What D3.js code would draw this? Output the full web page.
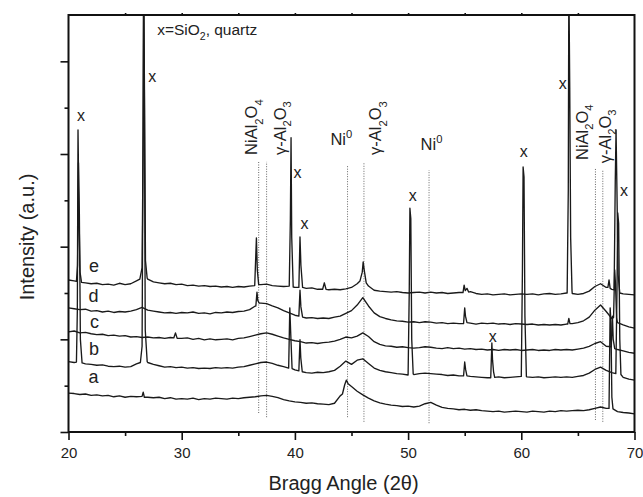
<!DOCTYPE html>
<html><head><meta charset="utf-8">
<script src="https://cdn.jsdelivr.net/npm/d3@7"></script>
<style>
body{margin:0;background:#fff}
svg{display:block;font-family:"Liberation Sans",Arial,Helvetica,sans-serif}
</style>
</head><body>
<svg id="chart" width="643" height="497"></svg>
<script>
// ---------------- DATA ----------------
const sampleNames = ["a","b","c","d","e"];
const angleStart = 20, angleEnd = 70, angleStep = 0.5;   // measurement grid (2θ)
const xTickLabels = [20,30,40,50,60,70];
const xMinorTicks = [25,35,45,55,65];
const xTopTicks = [25,30,35,40,45,50,55,60,65];
const yMajorTicks = [0,2,4,6,8];
const yMinorTicks = [1,3,5,7];

// baselines, one value per 0.5° from 20° to 70° (a.u.)
const baseA = [
 0.84,0.83,0.81,0.82,0.79,0.80,0.78,0.79,0.76,0.78,
 0.75,0.77,0.76,0.78,0.75,0.74,0.75,0.72,0.74,0.71,
 0.72,0.71,0.73,0.70,0.72,0.71,0.73,0.72,0.71,0.73,
 0.72,0.74,0.75,0.76,0.78,0.79,0.77,0.74,0.70,0.67,
 0.65,0.64,0.62,0.63,0.61,0.60,0.59,0.62,0.78,1.10,
 0.98,0.88,0.80,0.73,0.67,0.63,0.60,0.58,0.57,0.55,
 0.56,0.54,0.56,0.61,0.64,0.58,0.53,0.51,0.50,0.48,
 0.49,0.47,0.48,0.46,0.45,0.44,0.45,0.43,0.44,0.45,
 0.44,0.43,0.45,0.44,0.43,0.45,0.44,0.46,0.45,0.46,
 0.47,0.46,0.48,0.51,0.54,0.51,0.48,0.44,0.42,0.41,
 0.39];
const baseB = [
 1.52,1.50,1.50,1.47,1.46,1.44,1.45,1.42,1.41,1.42,
 1.40,1.41,1.47,1.55,1.50,1.46,1.43,1.40,1.41,1.39,
 1.40,1.38,1.39,1.37,1.38,1.37,1.39,1.38,1.39,1.38,
 1.40,1.41,1.44,1.47,1.50,1.51,1.48,1.44,1.41,1.38,
 1.34,1.31,1.28,1.27,1.29,1.28,1.30,1.33,1.42,1.53,
 1.46,1.55,1.58,1.48,1.38,1.33,1.30,1.28,1.26,1.25,
 1.23,1.24,1.26,1.27,1.26,1.25,1.24,1.22,1.23,1.21,
 1.22,1.20,1.19,1.18,1.17,1.18,1.19,1.17,1.18,1.19,
 1.20,1.19,1.18,1.19,1.17,1.18,1.19,1.18,1.19,1.18,
 1.20,1.22,1.27,1.35,1.40,1.33,1.28,1.25,1.18,1.14,
 1.12];
const baseC = [
 2.16,2.18,2.14,2.15,2.12,2.10,2.11,2.08,2.09,2.07,
 2.08,2.05,2.06,2.04,2.05,2.03,2.04,2.02,2.04,2.03,
 2.02,2.03,2.00,2.02,1.99,2.01,1.99,2.00,2.01,1.99,
 2.02,2.03,2.06,2.09,2.12,2.14,2.11,2.07,2.03,2.00,
 1.97,1.95,1.92,1.93,1.91,1.93,1.94,1.96,2.00,2.05,
 2.03,2.07,2.14,2.06,1.95,1.89,1.86,1.85,1.83,1.84,
 1.82,1.81,1.82,1.84,1.83,1.81,1.80,1.82,1.80,1.81,
 1.79,1.80,1.78,1.79,1.77,1.78,1.76,1.78,1.77,1.78,
 1.76,1.77,1.78,1.76,1.77,1.76,1.78,1.77,1.78,1.77,
 1.79,1.81,1.85,1.91,1.95,1.85,1.80,1.78,1.75,1.72,
 1.70];
const baseD = [
 2.68,2.66,2.64,2.65,2.61,2.62,2.59,2.61,2.58,2.60,
 2.59,2.61,2.64,2.69,2.63,2.61,2.59,2.57,2.58,2.56,
 2.58,2.57,2.59,2.56,2.57,2.55,2.58,2.57,2.59,2.58,
 2.60,2.61,2.64,2.72,2.78,2.77,2.72,2.68,2.62,2.57,
 2.52,2.49,2.46,2.47,2.45,2.46,2.45,2.48,2.50,2.56,
 2.62,2.74,2.90,2.72,2.57,2.49,2.45,2.42,2.40,2.39,
 2.37,2.38,2.36,2.38,2.37,2.35,2.36,2.34,2.35,2.34,
 2.36,2.35,2.33,2.35,2.34,2.35,2.33,2.34,2.32,2.34,
 2.33,2.32,2.33,2.31,2.32,2.31,2.32,2.31,2.33,2.34,
 2.36,2.40,2.48,2.63,2.74,2.60,2.45,2.36,2.31,2.27,
 2.24];
const baseE = [
 3.28,3.26,3.24,3.22,3.20,3.21,3.18,3.19,3.17,3.21,
 3.18,3.20,3.26,3.35,3.30,3.24,3.22,3.20,3.21,3.18,
 3.19,3.16,3.17,3.15,3.16,3.14,3.15,3.13,3.14,3.12,
 3.14,3.13,3.15,3.16,3.18,3.19,3.16,3.15,3.14,3.15,
 3.12,3.13,3.10,3.11,3.08,3.09,3.07,3.08,3.07,3.09,
 3.12,3.20,3.40,3.15,3.06,3.04,3.03,3.02,3.03,3.01,
 3.00,3.01,3.02,3.00,3.02,3.00,3.01,2.99,3.00,3.01,
 3.04,3.03,2.99,2.97,2.98,2.96,2.97,2.98,2.96,2.97,
 2.98,2.97,2.98,2.96,2.98,2.99,2.97,2.98,3.00,2.99,
 2.97,2.99,3.04,3.14,3.20,3.12,3.08,3.02,2.98,2.97,
 2.96];

// sharp reflections: [2θ, intensity] points
const peaksA = [
 [[26.5,0.77],[26.6,0.86],[26.7,0.75]],
 [[44.2,0.82],[44.4,1.02],[44.55,1.12],[44.7,1.04]],
 [[67.75,0.51],[67.85,2.68],[67.92,2.35],[68.0,0.75],[68.1,0.50]]
];
const peaksB = [
 [[20.7,1.51],[20.78,2.6],[20.84,6.52],[20.9,5.3],[20.96,4.7],[21.05,2.0],[21.2,1.49]],
 [[26.35,1.50],[26.5,1.85],[26.58,6.0],[26.63,9.8],[26.7,7.5],[26.78,2.2],[26.95,1.52]],
 [[39.45,1.38],[39.55,2.68],[39.62,2.2],[39.75,1.37]],
 [[40.35,1.32],[40.45,1.99],[40.52,1.6],[40.65,1.30]],
 [[50.0,1.23],[50.1,3.0],[50.16,4.83],[50.24,4.6],[50.32,2.0],[50.45,1.25]],
 [[54.9,1.21],[55.0,1.51],[55.08,1.35],[55.2,1.21]],
 [[57.3,1.17],[57.4,1.92],[57.46,1.55],[57.55,1.3],[57.65,1.18]],
 [[60.0,1.20],[60.1,3.5],[60.16,5.72],[60.24,5.5],[60.32,2.5],[60.45,1.20]],
 [[68.35,1.26],[68.45,3.0],[68.52,4.73],[68.6,4.5],[68.7,2.0],[68.8,1.24]]
];
const peaksC = [
 [[29.3,2.03],[29.45,2.14],[29.6,2.02]],
 [[67.95,1.84],[68.05,2.50],[68.12,2.0],[68.25,1.80]]
];
const peaksD = [
 [[36.55,2.72],[36.65,3.02],[36.72,2.84],[36.85,2.78]],
 [[40.35,2.50],[40.45,3.06],[40.53,2.70],[40.68,2.48]],
 [[54.9,2.34],[55.0,2.68],[55.07,2.50],[55.2,2.36]],
 [[64.1,2.33],[64.2,2.45],[64.3,2.34]],
 [[68.15,2.47],[68.25,3.5],[68.32,3.2],[68.42,2.45]]
];
const peaksE = [
 [[20.7,3.25],[20.8,3.6],[20.88,5.81],[20.95,4.4],[21.02,3.45],[21.15,3.23]],
 [[26.3,3.30],[26.5,3.55],[26.6,6.5],[26.65,9.8],[26.72,7.0],[26.8,3.7],[26.95,3.32]],
 [[36.45,3.16],[36.6,4.19],[36.68,3.5],[36.8,3.18]],
 [[39.5,3.15],[39.6,4.6],[39.66,6.35],[39.72,4.2],[39.85,3.13]],
 [[40.35,3.12],[40.45,4.21],[40.53,3.6],[40.68,3.12]],
 [[42.45,3.08],[42.6,3.22],[42.75,3.08]],
 [[45.75,3.26],[45.95,3.45],[46.03,3.67],[46.12,3.5],[46.3,3.22]],
 [[54.85,3.01],[54.95,3.17],[55.05,3.05],[55.2,3.10],[55.35,3.02]],
 [[64.05,3.00],[64.15,5.2],[64.2,9.8],[64.28,7.42],[64.36,4.2],[64.48,3.05]],
 [[67.65,3.12],[67.75,3.28],[67.85,3.10]],
 [[68.2,3.07],[68.3,5.4],[68.37,6.52],[68.45,5.2],[68.55,3.4],[68.7,3.0]]
];

// curve letters: [name, 2θ, intensity]
const sampleLabels = [["a",22.2,1.06],["b",22.25,1.66],["c",22.3,2.24],["d",22.2,2.81],["e",22.25,3.45]];
// quartz markers: [2θ, intensity]
const quartzMarks = [[21.11,6.71],[27.39,7.55],[40.22,5.48],[40.84,4.38],[50.40,4.98],[60.22,5.93],[63.67,7.40],[69.07,5.09],[57.48,1.94]];
// reference positions (dotted): [2θ, from, to]
const refLines = [[36.8,0.41,5.83],[37.5,0.32,5.83],[44.65,0.32,5.76],[46.1,0.22,5.80],[51.85,0.19,5.65],[66.55,0.26,5.70],[67.2,0.22,5.65]];
// phase names: [text, 2θ, intensity, vertical]
const phaseLabels = [
 ["NiAl_2O_4",36.68,5.98,true],
 ["γ-Al_2O_3",39.2,5.98,true],
 ["Ni^0",43.14,6.19,false],
 ["γ-Al_2O_3",47.65,5.98,true],
 ["Ni^0",51.1,6.09,false],
 ["NiAl_2O_4",65.88,5.87,true],
 ["γ-Al_2O_3",67.92,5.80,true]
];
const noteText = ["x=SiO_2, quartz",27.83,8.57];
const xTitle = "Bragg Angle (2θ)";
const yTitle = "Intensity (a.u.)";

// ---------------- DRAW ----------------
const W = 643, H = 497;
const M = {left:68.5, right:8.5, top:15, bottom:65};
const svg = d3.select("#chart");
const x = d3.scaleLinear().domain([20,70]).range([M.left, W - M.right]);
const y = d3.scaleLinear().domain([0,9]).range([H - M.bottom, M.top]);
const angles = d3.range(angleStart, angleEnd + angleStep/2, angleStep);

function buildCurve(base, peaks){
  let pts = angles.map((a,i)=>[a, base[i]]);
  peaks.forEach(p=>{
    const lo = p[0][0], hi = p[p.length-1][0];
    pts = pts.filter(q => q[0] < lo || q[0] > hi).concat(p);
  });
  return pts.sort((u,v)=>u[0]-v[0]);
}
const curves = [buildCurve(baseA,peaksA),buildCurve(baseB,peaksB),buildCurve(baseC,peaksC),buildCurve(baseD,peaksD),buildCurve(baseE,peaksE)];

svg.append("defs").append("clipPath").attr("id","plotclip")
  .append("rect").attr("x",x(20)).attr("y",y(9)).attr("width",x(70)-x(20)).attr("height",y(0)-y(9));

// dotted reference lines
svg.append("g").selectAll("line").data(refLines).join("line")
  .attr("x1",d=>x(d[0])).attr("x2",d=>x(d[0]))
  .attr("y1",d=>y(d[1])).attr("y2",d=>y(d[2]))
  .attr("stroke","#666").attr("stroke-width",1).attr("stroke-dasharray","1,1.5");

const line = d3.line().x(d=>x(d[0])).y(d=>y(d[1]));
svg.append("g").attr("clip-path","url(#plotclip)").selectAll("path").data(curves).join("path")
  .attr("d",line).attr("fill","none").attr("stroke","#1a1a1a").attr("stroke-width",1.35)
  .attr("stroke-linejoin","round");

// axes
const tickStyle = g => { g.select(".domain").remove(); g.selectAll("line").attr("stroke","#111").attr("stroke-width",1.6); };
svg.append("g").attr("transform",`translate(0,${y(0)})`)
  .call(d3.axisBottom(x).tickValues(xTickLabels).tickSize(8).tickPadding(7).tickFormat(d3.format("d")))
  .call(tickStyle)
  .call(g=>g.selectAll("text").attr("font-size",15).attr("fill","#222").attr("font-family","Liberation Sans, Arial, sans-serif"));
svg.append("g").attr("transform",`translate(0,${y(0)})`)
  .call(d3.axisBottom(x).tickValues(xMinorTicks).tickSize(4).tickFormat(""))
  .call(tickStyle);
svg.append("g").attr("transform",`translate(0,${y(9)})`)
  .call(d3.axisTop(x).tickValues(xTopTicks).tickSize(2).tickFormat(""))
  .call(tickStyle);
svg.append("g").attr("transform",`translate(${x(20)},0)`)
  .call(d3.axisLeft(y).tickValues(yMajorTicks).tickSize(8).tickFormat(""))
  .call(tickStyle);
svg.append("g").attr("transform",`translate(${x(20)},0)`)
  .call(d3.axisLeft(y).tickValues(yMinorTicks).tickSize(4).tickFormat(""))
  .call(tickStyle);

// frame
svg.append("rect").attr("x",x(20)).attr("y",y(9)).attr("width",x(70)-x(20)).attr("height",y(0)-y(9))
  .attr("fill","none").attr("stroke","#111").attr("stroke-width",2);

// titles
svg.append("text").attr("x",(x(20)+x(70))/2 - 8).attr("y",490).attr("text-anchor","middle")
  .attr("font-size",20).attr("fill","#222").text(xTitle);
svg.append("text").attr("transform","translate(34,237) rotate(-90)").attr("text-anchor","middle")
  .attr("font-size",20).attr("fill","#222").text(yTitle);

// rich text helper (_ = subscript, ^ = superscript)
function rich(sel, str, fs){
  const re = /([_^])(\w)|([^_^]+)/g; let m, shift = 0;
  while((m = re.exec(str)) !== null){
    if(m[3]){
      sel.append("tspan").attr("dy",-shift).attr("font-size",fs).text(m[3]); shift = 0;
    } else {
      const s = m[1]==="_" ? 0.32*fs : -0.42*fs;
      sel.append("tspan").attr("dy",s - shift).attr("font-size",fs*0.68).text(m[2]); shift = s;
    }
  }
}
phaseLabels.forEach(p=>{
  const t = svg.append("text").attr("fill","#222")
    .attr("transform", p[3] ? `translate(${x(p[1])},${y(p[2])}) rotate(-90)` : `translate(${x(p[1])},${y(p[2])})`);
  rich(t, p[0], 16.5);
});
const note = svg.append("text").attr("fill","#222").attr("transform",`translate(${x(noteText[1])},${y(noteText[2])})`);
rich(note, noteText[0], 15.5);

svg.append("g").selectAll("text").data(quartzMarks).join("text")
  .attr("x",d=>x(d[0])).attr("y",d=>y(d[1])).attr("text-anchor","middle")
  .attr("font-size",16).attr("fill","#222").text("x");
svg.append("g").selectAll("text").data(sampleLabels).join("text")
  .attr("x",d=>x(d[1])).attr("y",d=>y(d[2])).attr("text-anchor","middle")
  .attr("font-size",18).attr("fill","#222").text(d=>d[0]);
</script>
</body></html>
